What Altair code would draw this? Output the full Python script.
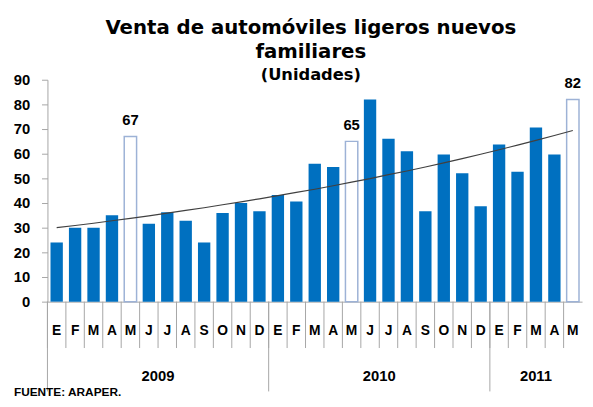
import altair as alt
import pandas as pd

months = ["E", "F", "M", "A", "M", "J", "J", "A", "S", "O", "N", "D",
          "E", "F", "M", "A", "M", "J", "J", "A", "S", "O", "N", "D",
          "E", "F", "M", "A", "M"]
years = ["2009"] * 12 + ["2010"] * 12 + ["2011"] * 5
values = [24, 30, 30, 35, 67, 31.6, 36.3, 32.8, 24, 36, 40, 36.7,
          43.3, 40.6, 55.9, 54.6, 65, 82, 66.1, 61, 36.7, 59.7, 52.1, 38.7,
          63.7, 52.7, 70.6, 59.7, 82]
highlight = [0, 0, 0, 0, 1, 0, 0, 0, 0, 0, 0, 0,
             0, 0, 0, 0, 1, 0, 0, 0, 0, 0, 0, 0,
             0, 0, 0, 0, 1]
trend = [30, 30.9, 31.8, 32.8, 33.8, 34.8, 35.9, 37.0, 38.1, 39.3, 40.5, 41.7,
         43.0, 44.3, 45.6, 47.0, 48.5, 49.9, 51.5, 53.0, 54.6, 56.3, 58.0, 59.8,
         61.6, 63.5, 65.4, 67.4, 69.4]
y_ticks = [0, 10, 20, 30, 40, 50, 60, 70, 80, 90]
source_note = ["FUENTE: ARAPER."]

df = pd.DataFrame({
    "idx": list(range(len(months))),
    "month": months,
    "year": years,
    "value": values,
    "hl": highlight,
    "trend": trend,
})

W, H = 542, 225
FONT = "Liberation Sans"
TFONT = "DejaVu Sans"
GREY = "#A6A6A6"

xs = alt.Scale(domain=[0, len(months)], nice=False, zero=False)
ys = alt.Scale(domain=[0, 90], nice=False)

x_axis = alt.Axis(labels=False, ticks=False, grid=False, title=None,
                  domainColor=GREY, domainWidth=1)
y_axis = alt.Axis(values=y_ticks, tickCount=10, grid=False, title=None,
                  labelFont=FONT, labelFontSize=15, labelFontWeight="bold",
                  labelColor="black", labelOverlap=False, labelBound=False,
                  labelFlush=False, tickSize=6, labelPadding=12,
                  tickColor=GREY, domainColor=GREY)

base = alt.Chart(df).transform_calculate(
    xc="datum.idx + 0.5", xl="datum.idx + 0.165", xr="datum.idx + 0.835"
)

bars = base.transform_filter("datum.hl == 0").mark_bar(color="#0070C0").encode(
    x=alt.X("xl:Q", scale=xs, axis=x_axis),
    x2="xr:Q",
    y=alt.Y("value:Q", scale=ys, axis=y_axis),
    y2=alt.datum(0),
)

hollow = base.transform_filter("datum.hl == 1").mark_bar(
    fill="white", stroke="#9DB2D6", strokeWidth=1.5
).encode(x=alt.X("xl:Q", scale=xs, axis=x_axis), x2="xr:Q",
         y=alt.Y("value:Q", scale=ys, axis=y_axis), y2=alt.datum(0))

labels = base.transform_filter("datum.hl == 1").mark_text(
    dy=-12, font=FONT, fontSize=15, fontWeight="bold", color="black", baseline="alphabetic"
).encode(x=alt.X("xc:Q", scale=xs, axis=x_axis), y=alt.Y("value:Q", scale=ys, axis=y_axis),
         text=alt.Text("value:Q", format=".0f"))

trend_line = base.mark_line(color="#404040", strokeWidth=1.2).encode(
    x=alt.X("xc:Q", scale=xs, axis=x_axis), y=alt.Y("trend:Q", scale=ys, axis=y_axis)
)

month_text = base.mark_text(font=FONT, fontSize=14, fontWeight="bold", color="black",
                            baseline="middle").encode(
    x=alt.X("xc:Q", scale=xs, axis=x_axis), y=alt.value(H + 30), text="month:N"
)

month_sep = base.mark_rule(color=GREY, strokeWidth=1).encode(
    x=alt.X("idx:Q", scale=xs, axis=x_axis), y=alt.value(H), y2=alt.value(H + 47)
)

year_sep = base.transform_filter("datum.month == 'E'").mark_rule(
    color=GREY, strokeWidth=1).encode(
    x=alt.X("idx:Q", scale=xs, axis=x_axis), y=alt.value(H), y2=alt.value(H + 91)
)

year_text = base.transform_aggregate(
    lo="min(idx)", hi="max(idx)", groupby=["year"]
).transform_calculate(mid="(datum.lo + datum.hi + 1) / 2").mark_text(
    font=FONT, fontSize=15, fontWeight="bold", color="black", baseline="middle"
).encode(x=alt.X("mid:Q", scale=xs, axis=x_axis), y=alt.value(H + 75), text="year:N")

note = alt.Chart(pd.DataFrame({"t": source_note})).mark_text(
    font=FONT, fontSize=12, fontWeight="bold", color="black", align="left",
    baseline="middle"
).encode(x=alt.value(-34), y=alt.value(H + 92), text="t:N")

chart = alt.layer(
    bars, hollow, labels, trend_line, month_text, month_sep, year_sep, year_text, note
).properties(
    width=W, height=H,
    autosize=alt.AutoSizeParams(type="none"),
    padding={"left": 40, "top": 70, "right": 3, "bottom": 99},
    title=alt.TitleParams(
        text=["Venta de automóviles ligeros nuevos", "familiares"],
        subtitle="(Unidades)",
        font=TFONT, fontSize=20, fontWeight="bold", color="black", lineHeight=24,
        subtitleFont=TFONT, subtitleFontSize=16.5, subtitleFontWeight="bold",
        subtitleColor="black", subtitlePadding=6, anchor="middle", offset=-11, dx=-4,
    ),
).configure_view(stroke=None)

chart.save("out.html", embed_options={"renderer": "svg", "actions": False})
